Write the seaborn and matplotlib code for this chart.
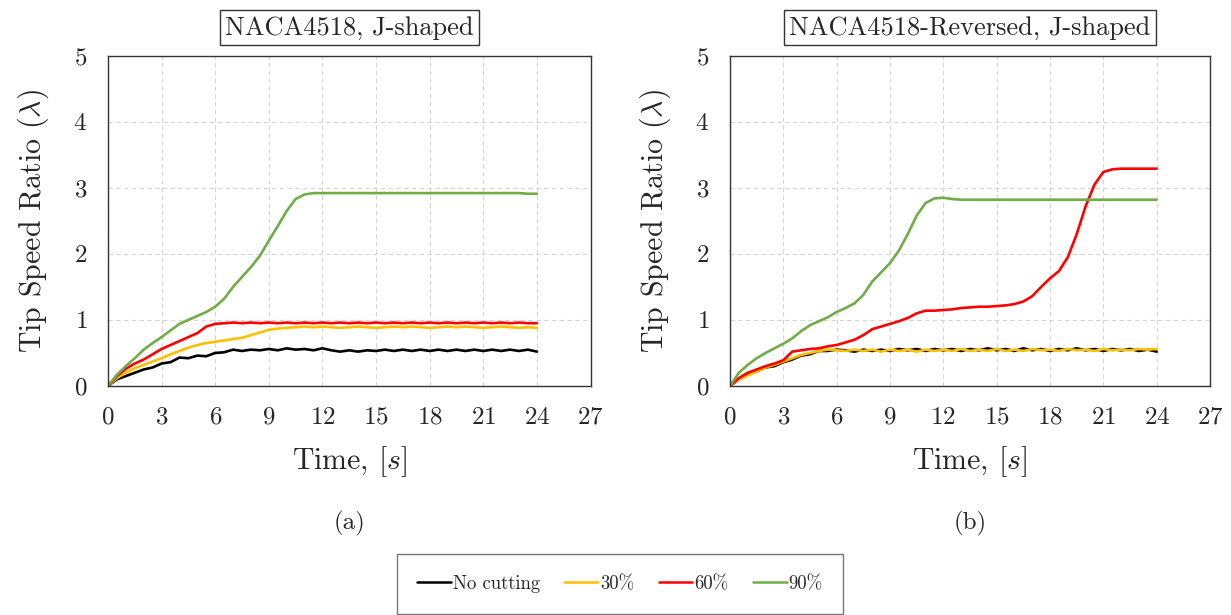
import numpy as np
import pandas as pd
import matplotlib
matplotlib.use("Agg")
import matplotlib.pyplot as plt
import seaborn as sns
from matplotlib.ticker import MultipleLocator
from matplotlib.lines import Line2D

# ---------------- data ----------------
TIME = np.arange(0, 24.5, 0.5)  # sample grid, s
CASES = ["No cutting", "30%", "60%", "90%"]
COLORS = ["#000000", "#FFC000", "#FF0000", "#70AD47"]
PANEL_TITLES = ["NACA4518, J-shaped", "NACA4518-Reversed, J-shaped"]
PANEL_TAGS = ["(a)", "(b)"]
X_TICKS = [0, 3, 6, 9, 12, 15, 18, 21, 24, 27]
Y_TICKS = [0, 1, 2, 3, 4, 5]

# panel (a)
a_nocut = [0, 0.1, 0.15, 0.2, 0.25, 0.28, 0.34, 0.36, 0.43, 0.42, 0.46, 0.45, 0.5, 0.51,
           0.55, 0.53, 0.55, 0.54, 0.56, 0.54, 0.57, 0.55, 0.56, 0.54, 0.57,
           0.54, 0.52, 0.54, 0.52, 0.54, 0.53, 0.55, 0.53, 0.55, 0.53,
           0.55, 0.53, 0.55, 0.53, 0.55, 0.53, 0.55, 0.53, 0.55, 0.53,
           0.55, 0.53, 0.55, 0.52]
a_30 = [0, 0.12, 0.2, 0.27, 0.32, 0.37, 0.42, 0.48, 0.53, 0.58, 0.62, 0.65, 0.67, 0.69,
        0.71, 0.73, 0.77, 0.81, 0.85, 0.87, 0.88, 0.89, 0.9,
        0.89, 0.9, 0.89, 0.88, 0.89, 0.9, 0.89, 0.88, 0.89, 0.9,
        0.89, 0.9, 0.89, 0.88, 0.89, 0.9, 0.89, 0.9, 0.89, 0.88,
        0.89, 0.9, 0.89, 0.88, 0.89, 0.88]
a_60 = [0, 0.15, 0.26, 0.34, 0.4, 0.48, 0.56, 0.62, 0.68, 0.74, 0.8, 0.9, 0.94, 0.95, 0.96,
        0.95, 0.96, 0.95, 0.96, 0.95, 0.96, 0.95, 0.96, 0.95, 0.96,
        0.95, 0.96, 0.95, 0.96, 0.95, 0.96, 0.95, 0.96, 0.95, 0.96,
        0.95, 0.96, 0.95, 0.96, 0.95, 0.96, 0.95, 0.96, 0.95, 0.96,
        0.95, 0.96, 0.95, 0.95]
a_90 = [0, 0.17, 0.3, 0.42, 0.55, 0.65, 0.74, 0.84, 0.94, 1.0, 1.06, 1.12, 1.2, 1.32,
        1.5, 1.65, 1.8, 1.97, 2.2, 2.42, 2.65, 2.83, 2.9, 2.92,
        2.92, 2.92, 2.92, 2.92, 2.92, 2.92, 2.92, 2.92, 2.92, 2.92,
        2.92, 2.92, 2.92, 2.92, 2.92, 2.92, 2.92, 2.92, 2.92, 2.92,
        2.92, 2.92, 2.92, 2.91, 2.91]

# panel (b)
b_nocut = [0, 0.1, 0.17, 0.22, 0.28, 0.3, 0.36, 0.4, 0.46, 0.48, 0.53, 0.53, 0.55, 0.54,
           0.52, 0.55, 0.53, 0.55, 0.53, 0.56, 0.54, 0.56, 0.53, 0.56,
           0.54, 0.56, 0.53, 0.56, 0.54, 0.57, 0.54, 0.56, 0.53, 0.57,
           0.54, 0.56, 0.53, 0.56, 0.54, 0.57, 0.54, 0.56, 0.53, 0.56,
           0.54, 0.56, 0.53, 0.55, 0.52]
b_30 = [0, 0.1, 0.16, 0.22, 0.28, 0.32, 0.37, 0.42, 0.47, 0.5, 0.53, 0.55, 0.54, 0.53,
        0.55, 0.53, 0.55, 0.52, 0.55, 0.53, 0.55, 0.52, 0.55, 0.53,
        0.55, 0.53, 0.56, 0.53, 0.55, 0.53, 0.56, 0.53, 0.55, 0.53,
        0.56, 0.54, 0.55, 0.53, 0.56, 0.54, 0.55, 0.53, 0.56, 0.54,
        0.55, 0.54, 0.56, 0.55, 0.56]
b_60 = [0, 0.12, 0.2, 0.25, 0.3, 0.34, 0.39, 0.52, 0.54, 0.56,
        0.57, 0.6, 0.62, 0.66, 0.7, 0.77, 0.86, 0.9, 0.94, 0.98,
        1.03, 1.1, 1.14, 1.14, 1.15, 1.16, 1.18, 1.19, 1.2, 1.2,
        1.21, 1.22, 1.24, 1.28, 1.36, 1.5, 1.63, 1.74, 1.95, 2.3,
        2.72, 3.05, 3.24, 3.28, 3.29, 3.29, 3.29, 3.29, 3.29]
b_90 = [0, 0.2, 0.32, 0.42, 0.5, 0.57, 0.64, 0.72, 0.83, 0.92,
        0.98, 1.04, 1.12, 1.18, 1.25, 1.38, 1.58, 1.72, 1.86, 2.05,
        2.3, 2.58, 2.77, 2.84, 2.85, 2.83, 2.82,
        2.82, 2.82, 2.82, 2.82, 2.82, 2.82, 2.82, 2.82, 2.82, 2.82, 2.82,
        2.82, 2.82, 2.82, 2.82, 2.82, 2.82, 2.82, 2.82, 2.82, 2.82, 2.82]

PANELS = [[a_nocut, a_30, a_60, a_90], [b_nocut, b_30, b_60, b_90]]

# ---------------- style ----------------
sns.set_style("white")
plt.rcParams['font.family'] = ['cmr10', 'DejaVu Serif']
plt.rcParams['mathtext.fontset'] = 'cm'
plt.rcParams['axes.formatter.use_mathtext'] = True

fig = plt.figure(figsize=(12.31, 6.15), dpi=100)
rects = [[0.0877, 0.3724, 0.392, 0.537], [0.593, 0.3724, 0.390, 0.537]]
palette = dict(zip(CASES, COLORS))

for i, (series, rect) in enumerate(zip(PANELS, rects)):
    ax = fig.add_axes(rect)
    frames = []
    for case, vals in zip(CASES, series):
        frames.append(pd.DataFrame({"Time": TIME, "TSR": vals, "Case": case}))
    df = pd.concat(frames, ignore_index=True)
    sns.lineplot(data=df, x="Time", y="TSR", hue="Case", hue_order=CASES,
                 palette=palette, ax=ax, legend=False, linewidth=1.9)
    ax.set_xlim(0, 27)
    ax.set_ylim(0, 5)
    ax.set_xticks(X_TICKS)
    ax.set_yticks(Y_TICKS)
    ax.yaxis.set_minor_locator(MultipleLocator(0.2))
    ax.tick_params(which='major', direction='inout', length=10, width=1,
                   labelsize=18, color='#333333', pad=10)
    ax.tick_params(which='minor', direction='in', length=4, width=0.8,
                   color='#333333')
    ax.tick_params(axis='x', which='minor', bottom=False)
    ax.grid(True, which='major', linestyle=(0, (4, 3)), color='#d5d5d5', linewidth=0.8)
    for sp in ax.spines.values():
        sp.set_color('#333333')
        sp.set_linewidth(1.0)
    ax.set_xlabel(r'Time, $[s]$', fontsize=21.5, labelpad=11)
    ax.set_ylabel(r'Tip Speed Ratio ($\lambda$)', fontsize=21.5, labelpad=16)
    ax.text(0.5, 1.085, PANEL_TITLES[i], transform=ax.transAxes, ha='center',
            va='center', fontsize=19,
            bbox=dict(boxstyle='square,pad=0.2', fc='white', ec='#333333', lw=1))
    cx = rect[0] + rect[2] / 2
    fig.text(cx, 1 - 523 / 615, PANEL_TAGS[i], ha='center', va='center', fontsize=18)

handles = [Line2D([0], [0], color=c, lw=1.8) for c in COLORS]
leg = fig.legend(handles, CASES, loc='center', bbox_to_anchor=(620 / 1231, 1 - 584 / 615),
                 ncol=4, frameon=True, fancybox=False, fontsize=13.5, handlelength=1.8,
                 handletextpad=0.1, columnspacing=1.3, borderpad=1.1)
leg.get_frame().set_edgecolor('#555555')
leg.get_frame().set_linewidth(1.0)

fig.savefig("out.png", dpi=100)
